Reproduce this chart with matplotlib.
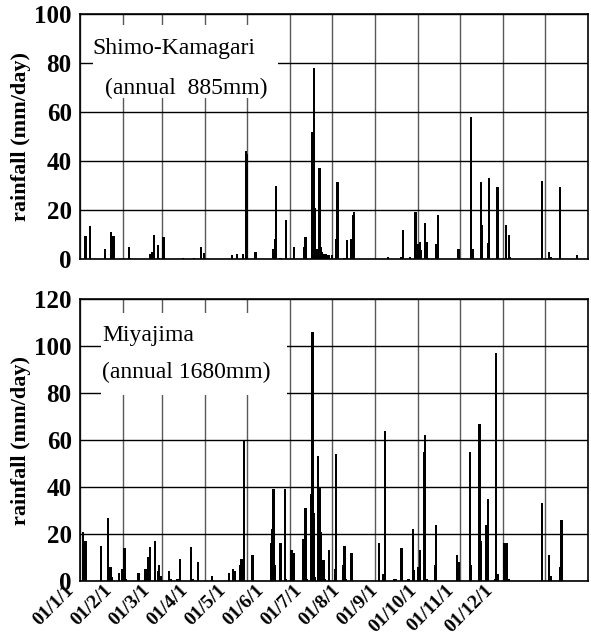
import matplotlib.pyplot as plt
import matplotlib
import numpy as np
import pandas as pd
from matplotlib.patches import Rectangle

matplotlib.rc('font', family='Liberation Serif')

# day of year (0 = Jan 1) and daily rainfall (mm/day), 2001
kama_day = [4, 7, 18, 22, 23, 24, 35, 36, 50, 52, 53, 56, 57, 60, 74, 82, 87, 89,
            109, 113, 117, 119, 120, 126,
            139, 140, 141, 144, 148, 154, 161, 162, 167, 168, 169, 170, 172, 173,
            174, 175, 176, 177, 178, 179,
            181, 184, 185, 190, 192, 195, 196, 197,
            221, 231, 232, 237, 241, 243, 244, 245, 248, 249, 250, 256, 257,
            272, 281, 282, 288, 289, 293, 294, 300, 306, 308, 309,
            332, 337, 338, 345, 357]
kama_rain = [9.5, 13.5, 4, 11, 1.5, 9.5, 4.8, 0.5, 2, 3, 10, 5.6, 0.5, 9, 0.5, 0.5, 5, 2.5,
             1.5, 2, 2, 44, 43, 3,
             4, 8, 30, 0.5, 16, 5, 4.8, 9, 52, 78, 21, 4, 37, 5,
             3, 2, 2, 2, 1.5, 1.5,
             1.6, 8, 31.6, 0.5, 7.6, 8, 18, 19,
             1, 1, 12, 1, 19, 6, 7, 3.7, 14.6, 7, 0.5, 6, 18,
             4, 58, 4, 31.6, 14, 6.7, 33, 29.3, 14, 10, 1,
             32, 3, 1, 29.3, 1.6]

miya_day = [2, 4, 15, 20, 21, 22, 23, 28, 30, 31, 32, 33,
            42, 47, 49, 50, 54, 56, 57, 58, 64, 65, 70, 72, 80, 81, 85, 95,
            107, 110, 111, 115, 116, 118, 124,
            137, 138, 139, 140, 144, 147, 148,
            152, 154, 160, 162, 163, 166, 167, 168, 169, 171, 172, 173, 175, 176,
            179, 183, 184, 189, 190, 191, 195,
            215, 218, 219, 226, 227, 231, 236, 239, 240,
            243, 244, 247, 248, 249, 255, 256,
            271, 272, 280, 281, 287, 288, 292, 293, 298, 299, 300,
            305, 307, 308, 332, 337, 338, 345, 346]
miya_rain = [21, 17, 15, 27, 6, 6, 1.5, 3.3, 5, 5, 14, 1,
             3.3, 5, 10.4, 14.3, 17, 4.3, 7, 2.3, 4.3, 1, 1, 9.4, 14.3, 1, 8, 2.3,
             3.3, 5, 4.3, 7, 9.4, 60, 11,
             16, 22, 39, 7, 16, 39, 1,
             13, 12, 18, 31, 1, 37, 106, 29, 1.5, 53, 40, 21, 9, 1,
             13, 5, 54, 7, 15, 1, 12,
             16, 3, 64, 1, 1, 14, 1, 22, 4.7,
             6, 13, 55, 62, 1, 7, 24,
             11, 8, 55, 7, 67, 17, 24, 35, 1, 97, 3,
             16, 16, 1, 33, 11, 2, 6, 26]

month_start = pd.date_range('2001-01-01', periods=12, freq='MS')
month_pos = [(m - month_start[0]).days for m in month_start]
month_labels = ['01/%d/1' % m.month for m in month_start]

fig = plt.figure(figsize=(5.91, 6.41), dpi=100)
ax1 = fig.add_axes([0.1354, 0.5959, 0.8596, 0.3822])
ax2 = fig.add_axes([0.1354, 0.0936, 0.8596, 0.4399])

panels = [
    (ax1, kama_day, kama_rain, 100, 'Shimo-Kamagari', '(annual  885mm)',
     (0.026, 0.657, 0.364, 0.298), (0.024, 0.861), (0.049, 0.698)),
    (ax2, miya_day, miya_rain, 120, 'Miyajima', '(annual 1680mm)',
     (0.041, 0.660, 0.366, 0.290), (0.043, 0.872), (0.043, 0.738)),
]

for ax, day, rain, top, name, annual, box, p1, p2 in panels:
    ax.bar(day, rain, width=1.6, color='black', zorder=2)
    ax.set_xlim(0, 365)
    ax.set_ylim(0, top)
    ax.set_yticks(range(0, top + 1, 20))
    ax.set_xticks(month_pos)
    ax.set_xticklabels([])
    ax.set_axisbelow(True)
    ax.grid(axis='y', color='black', lw=1.0)
    ax.grid(axis='x', color='0.35', lw=1.0)
    for s in ax.spines.values():
        s.set_linewidth(1.2)
    ax.tick_params(length=0, pad=6)
    for t in ax.get_yticklabels():
        t.set_fontsize(18)
        t.set_fontweight('bold')
    ax.set_ylabel('rainfall (mm/day)', fontsize=16, fontweight='bold', labelpad=2)
    ax.add_patch(Rectangle(box[:2], box[2], box[3], transform=ax.transAxes,
                           facecolor='white', edgecolor='none', zorder=1))
    ax.text(p1[0], p1[1], name, transform=ax.transAxes, fontsize=17,
            va='center', ha='left', zorder=3)
    ax.text(p2[0], p2[1], annual, transform=ax.transAxes, fontsize=17,
            va='center', ha='left', zorder=3)

# date labels sit a little left of their gridlines, as in the original
label_x = np.linspace(-0.030, 0.795, len(month_labels))
for lx, lab in zip(label_x, month_labels):
    ax2.text(lx, -0.002, lab, transform=ax2.transAxes, rotation=45,
             rotation_mode='anchor', ha='right', va='top',
             fontsize=14, fontweight='bold')

fig.savefig('out.png', dpi=100)
